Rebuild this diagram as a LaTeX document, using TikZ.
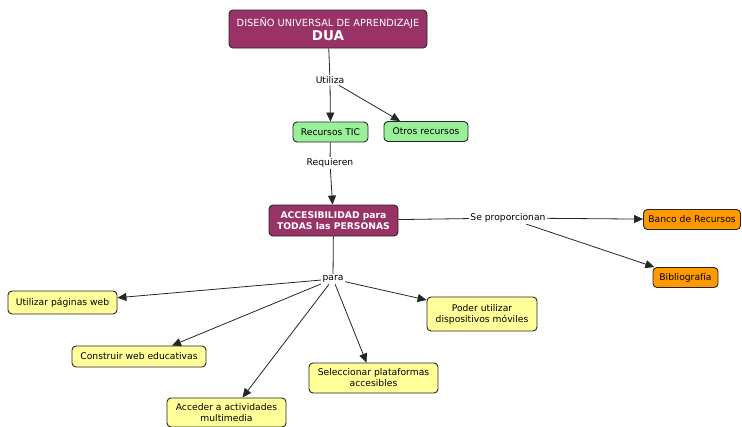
\documentclass[tikz,border=0pt]{standalone}
\usepackage{fontspec}
\setmainfont{DejaVu Sans}
\usetikzlibrary{arrows.meta}
\definecolor{maroon}{HTML}{993366}
\definecolor{lgreen}{HTML}{99F099}
\definecolor{lyellow}{HTML}{FFFF99}
\definecolor{orng}{HTML}{FF9900}
\definecolor{edge}{HTML}{262626}
\tikzset{
  box/.style={draw=edge, line width=0.9pt, rounded corners=4pt, align=center, inner sep=1pt,
    font=\fontsize{9.2}{11}\selectfont},
  maroonbox/.style={box, fill=maroon, text=white},
  greenbox/.style={box, fill=lgreen},
  yellowbox/.style={box, fill=lyellow},
  orangebox/.style={box, fill=orng},
  lbl/.style={fill=white, inner sep=1.5pt, font=\fontsize{9.2}{11}\selectfont},
  conn/.style={draw=edge, line width=0.8pt},
  arr/.style={conn, -{Triangle[length=9pt,width=8pt]}},
}
\begin{document}
\begin{tikzpicture}[x=1pt,y=-1pt]
\useasboundingbox[fill=white] (0,0) rectangle (742,426);
% nodes
\node[maroonbox, minimum width=198pt, minimum height=38pt] (dua) at (328,29)
  {{\fontsize{9.8}{12}\selectfont DISEÑO UNIVERSAL DE APRENDIZAJE}\\[1pt]{\fontsize{13.5}{15}\selectfont\bfseries DUA}};
\node[greenbox, minimum width=75pt, minimum height=20pt] (rtic) at (330.5,132) {Recursos TIC};
\node[greenbox, minimum width=84pt, minimum height=20pt] (otros) at (426,131.5) {Otros recursos};
\node[maroonbox, minimum width=129pt, minimum height=31pt, font=\fontsize{9.2}{11}\selectfont\bfseries] (acc) at (333.5,220.5) {ACCESIBILIDAD para\\TODAS las PERSONAS};
\node[orangebox, minimum width=97pt, minimum height=20pt] (banco) at (692,219.5) {Banco de Recursos};
\node[orangebox, minimum width=65pt, minimum height=20pt] (bib) at (685.5,277.5) {Bibliografía};
\node[yellowbox, minimum width=109pt, minimum height=23pt] (util) at (62.5,302.5) {Utilizar páginas web};
\node[yellowbox, minimum width=134pt, minimum height=21pt] (constr) at (139,356.5) {Construir web educativas};
\node[yellowbox, minimum width=119pt, minimum height=29pt] (acceder) at (226.5,412.5) {Acceder a actividades\\multimedia};
\node[yellowbox, minimum width=129pt, minimum height=30pt] (sel) at (373.5,378) {Seleccionar plataformas\\accesibles};
\node[yellowbox, minimum width=110pt, minimum height=34pt] (poder) at (482,314) {Poder utilizar\\dispositivos móviles};
% labels
\node[lbl] (utiliza) at (330,80) {Utiliza};
\node[lbl] (requieren) at (330,163) {Requieren};
\node[lbl] (sep) at (508,218) {Se proporcionan};
\node[lbl] (para) at (333,279) {para};
% connectors
\draw[conn] (dua) -- (utiliza);
\draw[arr] (utiliza) -- (rtic);
\draw[arr] (utiliza) -- ([xshift=-26pt]otros.north);
\draw[conn] (rtic) -- (requieren);
\draw[arr] (requieren) -- (acc);
\draw[conn] (acc) -- (sep);
\draw[arr] (sep) -- (banco);
\draw[arr] (sep) -- (bib);
\draw[conn] (acc) -- (para);
\draw[arr] (para) -- (util);
\draw[arr] (para) -- ([xshift=33pt]constr.north);
\draw[arr] (para) -- ([xshift=16pt]acceder.north);
\draw[arr] (para) -- ([xshift=-7pt]sel.north);
\draw[arr] (para) -- ([yshift=14pt]poder.west);
\end{tikzpicture}
\end{document}
